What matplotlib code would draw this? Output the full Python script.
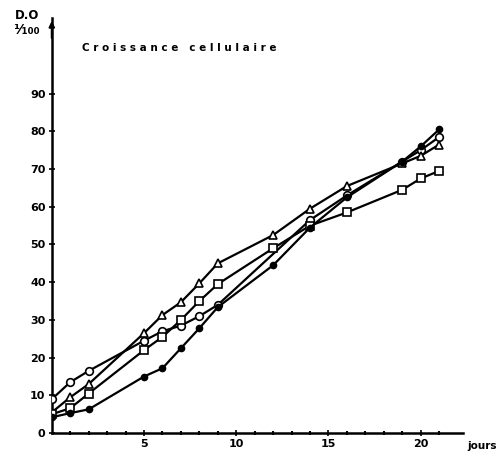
import matplotlib
matplotlib.use("Agg")
import matplotlib.pyplot as plt

# ---- data ----
days_open = [0, 1, 2, 5, 6, 7, 8, 9, 14, 16, 19, 20, 21]
vals_open = [9, 13.5, 16.5, 24.5, 27, 28.5, 31, 34, 56.5, 63, 72, 75, 78.5]

days_tri = [0, 1, 2, 5, 6, 7, 8, 9, 12, 14, 16, 19, 20, 21]
vals_tri = [5.5, 9.5, 13, 26.5, 31.3, 34.7, 39.7, 45, 52.5, 59.5, 65.5, 71.5, 73.5, 76.5]

days_sq = [0, 1, 2, 5, 6, 7, 8, 9, 12, 14, 16, 19, 20, 21]
vals_sq = [5, 6.6, 10.5, 22, 25.5, 30, 35, 39.5, 49, 55, 58.5, 64.5, 67.5, 69.5]

days_fill = [0, 1, 2, 5, 6, 7, 8, 9, 12, 14, 16, 19, 20, 21]
vals_fill = [4.2, 5.3, 6.3, 15, 17.2, 22.5, 27.8, 33.4, 44.5, 54.5, 62.5, 72, 76, 80.5]

x_ticks = [5, 10, 15, 20]
x_ticklabels = ["5", "10", "15", "20"]
y_ticks = [0, 10, 20, 30, 40, 50, 60, 70, 80, 90]
y_ticklabels = ["0", "10", "20", "30", "40", "50", "60", "70", "80", "90"]

fig = plt.figure(figsize=(4.98, 4.54), dpi=100)
ax = fig.add_axes([0.104, 0.046, 0.826, 0.914])
ax.set_xlim(0, 22.3)
ax.set_ylim(0, 110)

lw = 1.6
ax.plot(days_open, vals_open, color="black", lw=lw, marker="o", ms=5.5,
        mfc="white", mec="black", mew=1.2, zorder=3)
ax.plot(days_tri, vals_tri, color="black", lw=lw, marker="^", ms=5.5,
        mfc="white", mec="black", mew=1.2, zorder=3)
ax.plot(days_sq, vals_sq, color="black", lw=lw, marker="s", ms=5.5,
        mfc="white", mec="black", mew=1.2, zorder=3)
ax.plot(days_fill, vals_fill, color="black", lw=lw, marker="o", ms=4.5,
        mfc="black", mec="black", zorder=4)

for s in ["top", "right"]:
    ax.spines[s].set_visible(False)
for s in ["left", "bottom"]:
    ax.spines[s].set_linewidth(1.8)

ax.set_xticks(x_ticks)
ax.set_xticklabels(x_ticklabels, fontsize=8, fontweight="bold")
ax.set_xticks(range(1, 22), minor=True)
ax.set_yticks(y_ticks)
ax.set_yticklabels(y_ticklabels, fontsize=8, fontweight="bold")
ax.tick_params(axis="both", which="major", direction="inout", length=5, width=1.2, pad=2)
ax.tick_params(axis="x", which="minor", direction="inout", length=3, width=1.5)

# axis arrow
ax.annotate("", xy=(0, 110), xytext=(0, 104),
            arrowprops=dict(arrowstyle="-|>", color="black", lw=1.5, mutation_scale=8),
            annotation_clip=False)

fig.text(0.030, 0.965, "D.O", fontsize=8.5, fontweight="bold", ha="left", va="center")
fig.text(0.026, 0.935, "¹⁄₁₀₀", fontsize=10, fontweight="bold", ha="left", va="center")
fig.text(0.165, 0.895, "C r o i s s a n c e   c e l l u l a i r e", fontsize=7.5,
         fontweight="bold", ha="left", va="center")
fig.text(0.938, 0.018, "jours", fontsize=7.5, fontweight="bold", ha="left", va="center")

fig.savefig("out.png", dpi=100)
